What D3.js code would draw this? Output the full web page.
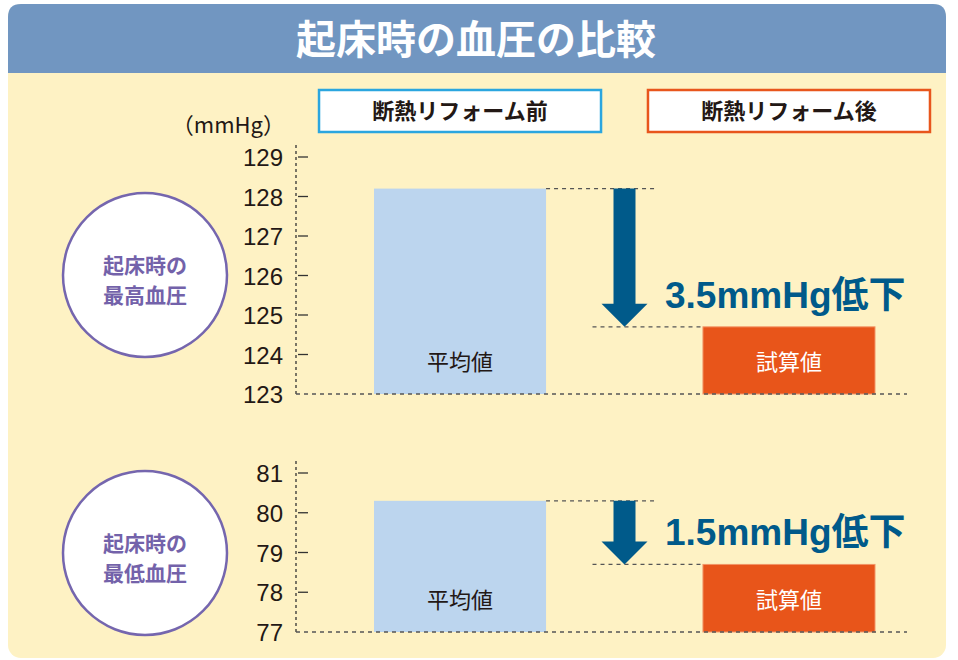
<!DOCTYPE html>
<html>
<head>
<meta charset="utf-8">
<script src="https://cdn.jsdelivr.net/npm/d3@7"></script>
<style>
  body { margin: 0; background: #fff; }
  svg { display: block; }
</style>
</head>
<body>
<svg id="chart" width="958" height="660"></svg>
<script>
// Data
var categories = ["断熱リフォーム前", "断熱リフォーム後"];
var barLabels = ["平均値", "試算値"];
var systolicValues = [128.2, 124.7];
var diastolicValues = [80.3, 78.7];
var systolicTicks = [123, 124, 125, 126, 127, 128, 129];
var diastolicTicks = [77, 78, 79, 80, 81];
var dropLabels = ["3.5mmHg低下", "1.5mmHg低下"];
var panelTitles = [["起床時の", "最高血圧"], ["起床時の", "最低血圧"]];

var jp = "'Noto Sans CJK JP', sans-serif";
var num = "'Liberation Sans', Arial, 'Noto Sans CJK JP', sans-serif";

var svg = d3.select("#chart");

// Panel background + header
svg.append("rect")
  .attr("x", 8).attr("y", 4).attr("width", 938).attr("height", 654)
  .attr("rx", 13).attr("fill", "#fef2c4");

svg.append("path")
  .attr("d", "M8,73 V17 Q8,4 21,4 H933 Q946,4 946,17 V73 Z")
  .attr("fill", "#7196c1");

svg.append("text")
  .attr("x", 476).attr("y", 54)
  .attr("text-anchor", "middle")
  .attr("fill", "#fff")
  .style("font-family", jp).style("font-weight", 700).style("font-size", "40px")
  .text("起床時の血圧の比較");

// x scale shared by both charts
var x = d3.scaleBand()
  .domain(categories)
  .range([374, 875])
  .paddingInner(0.477)
  .paddingOuter(0);

// Legend boxes
var legendColors = ["#2ba6df", "#e8561c"];
categories.forEach(function(c, i) {
  var cx = x(c) + x.bandwidth() / 2;
  svg.append("rect")
    .attr("x", cx - 141).attr("y", 90).attr("width", 282).attr("height", 42)
    .attr("fill", "#fff").attr("stroke", legendColors[i]).attr("stroke-width", 2.5);
  svg.append("text")
    .attr("x", cx).attr("y", 119)
    .attr("text-anchor", "middle")
    .attr("fill", "#231815")
    .style("font-family", jp).style("font-weight", 700).style("font-size", "22px")
    .text(c);
});

svg.append("text")
  .attr("x", 285).attr("y", 133)
  .attr("text-anchor", "end")
  .attr("fill", "#231815")
  .style("font-family", jp).style("font-size", "22px")
  .text("（mmHg）");

function drawChart(values, ticks, yRange, circleY, title, drop) {
  var y = d3.scaleLinear()
    .domain([ticks[0], ticks[ticks.length - 1]])
    .range(yRange);
  var base = y(ticks[0]);
  var g = svg.append("g");

  // axis
  var axis = d3.axisLeft(y).tickValues(ticks).tickFormat(d3.format("d"))
    .tickSize(0).tickPadding(13);
  var ax = g.append("g").attr("transform", "translate(296,0)").call(axis);
  ax.select(".domain").remove();
  ax.selectAll("text")
    .attr("fill", "#231815")
    .style("font-family", num).style("font-size", "24px")
    .attr("dy", "0.36em");

  g.append("line")
    .attr("x1", 296).attr("x2", 296)
    .attr("y1", y(ticks[ticks.length - 1]) - 12).attr("y2", base)
    .attr("stroke", "#333").attr("stroke-width", 1.3).attr("stroke-dasharray", "3,3");

  g.selectAll(".tk").data(ticks.slice(1)).enter().append("line")
    .attr("x1", 298).attr("x2", 308)
    .attr("y1", function(d) { return y(d); }).attr("y2", function(d) { return y(d); })
    .attr("stroke", "#333").attr("stroke-width", 1.3);

  // bars
  var colors = ["#bcd5ee", "#e8551a"];
  g.selectAll(".bar").data(values).enter().append("rect")
    .attr("x", function(d, i) { return x(categories[i]); })
    .attr("y", function(d) { return y(d); })
    .attr("width", x.bandwidth())
    .attr("height", function(d) { return base - y(d); })
    .attr("fill", function(d, i) { return colors[i]; })
    .attr("stroke", function(d, i) { return i ? "#f29566" : "none"; })
    .attr("stroke-width", 1);

  g.selectAll(".blabel").data(values).enter().append("text")
    .attr("x", function(d, i) { return x(categories[i]) + x.bandwidth() / 2; })
    .attr("y", base - 24)
    .attr("text-anchor", "middle")
    .attr("fill", function(d, i) { return i ? "#fff" : "#231815"; })
    .style("font-family", jp).style("font-size", "22px")
    .text(function(d, i) { return barLabels[i]; });

  // baseline
  g.append("line")
    .attr("x1", 296).attr("x2", 907).attr("y1", base).attr("y2", base)
    .attr("stroke", "#555").attr("stroke-width", 1.3).attr("stroke-dasharray", "4,4");

  var x0end = x(categories[0]) + x.bandwidth();
  var x1start = x(categories[1]);
  var mid = (x0end + x1start) / 2;

  // dashed reference lines
  g.append("line")
    .attr("x1", x0end).attr("x2", mid + 31)
    .attr("y1", y(values[0])).attr("y2", y(values[0]))
    .attr("stroke", "#555").attr("stroke-width", 1.3).attr("stroke-dasharray", "4,4");
  g.append("line")
    .attr("x1", mid - 32).attr("x2", x1start)
    .attr("y1", y(values[1])).attr("y2", y(values[1]))
    .attr("stroke", "#555").attr("stroke-width", 1.3).attr("stroke-dasharray", "4,4");

  // arrow
  var top = y(values[0]), tip = y(values[1]);
  var headTop = tip - 23;
  g.append("path")
    .attr("d", "M" + (mid - 11) + "," + top + " H" + (mid + 11) + " V" + headTop +
      " H" + (mid + 23) + " L" + mid + "," + tip + " L" + (mid - 23) + "," + headTop +
      " H" + (mid - 11) + " Z")
    .attr("fill", "#005a8a");

  g.append("text")
    .attr("x", 665).attr("y", headTop + 4)
    .attr("fill", "#005a8a")
    .style("font-family", num).style("font-weight", 700).style("font-size", "37px")
    .text(drop);

  // circle label
  g.append("circle")
    .attr("cx", 145).attr("cy", circleY).attr("r", 82)
    .attr("fill", "#fff").attr("stroke", "#7566ae").attr("stroke-width", 2.5);
  var t = g.append("text")
    .attr("text-anchor", "middle")
    .attr("fill", "#7362aa")
    .style("font-family", jp).style("font-weight", 700).style("font-size", "21px");
  title.forEach(function(line, i) {
    t.append("tspan")
      .attr("x", 145).attr("y", circleY + (i === 0 ? -2 : 28))
      .text(line);
  });
}

drawChart(systolicValues, systolicTicks, [394, 157], 275, panelTitles[0], dropLabels[0]);
drawChart(diastolicValues, diastolicTicks, [632, 473], 553, panelTitles[1], dropLabels[1]);
</script>
</body>
</html>
